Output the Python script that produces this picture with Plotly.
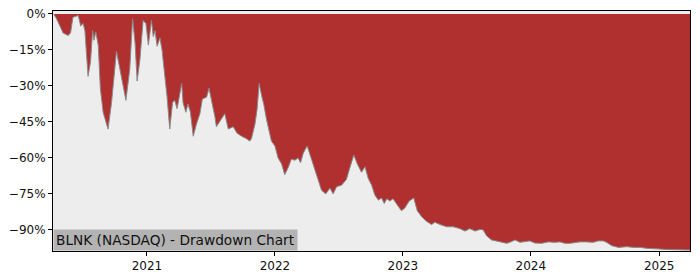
import plotly.graph_objects as go

dates = [
    "2020-04-10", "2020-04-18", "2020-05-07", "2020-05-21", "2020-05-28", "2020-06-04",
    "2020-06-19", "2020-06-26", "2020-07-03", "2020-07-08", "2020-07-17", "2020-07-24",
    "2020-07-30", "2020-08-03", "2020-08-08", "2020-08-15", "2020-08-21", "2020-08-29",
    "2020-09-12", "2020-09-22", "2020-10-06", "2020-10-16", "2020-10-25", "2020-11-02",
    "2020-11-13", "2020-11-21", "2020-11-28", "2020-12-04", "2020-12-12", "2020-12-21",
    "2020-12-29", "2021-01-05", "2021-01-14", "2021-01-19", "2021-01-24", "2021-01-30",
    "2021-02-07", "2021-02-13", "2021-02-21", "2021-02-27", "2021-03-07", "2021-03-15",
    "2021-03-21", "2021-03-28", "2021-04-10", "2021-04-14", "2021-04-22", "2021-04-28",
    "2021-05-05", "2021-05-13", "2021-05-22", "2021-06-01", "2021-06-08", "2021-06-20",
    "2021-06-27", "2021-07-04", "2021-07-14", "2021-07-18", "2021-08-02", "2021-08-11",
    "2021-08-21", "2021-09-04", "2021-09-15", "2021-09-28", "2021-10-12", "2021-10-21",
    "2021-10-26", "2021-11-05", "2021-11-11", "2021-11-17", "2021-11-24", "2021-11-30",
    "2021-12-08", "2021-12-16", "2021-12-22", "2022-01-01", "2022-01-10", "2022-01-20",
    "2022-01-29", "2022-02-08", "2022-02-17", "2022-02-27", "2022-03-08", "2022-03-15",
    "2022-03-23", "2022-04-03", "2022-04-11", "2022-04-25", "2022-05-04", "2022-05-14",
    "2022-05-26", "2022-06-07", "2022-06-16", "2022-06-26", "2022-07-10", "2022-07-24",
    "2022-08-03", "2022-08-14", "2022-08-24", "2022-09-05", "2022-09-15", "2022-09-24",
    "2022-10-04", "2022-10-13", "2022-10-23", "2022-11-01", "2022-11-09", "2022-11-16",
    "2022-11-25", "2022-12-04", "2022-12-16", "2022-12-28", "2023-01-06", "2023-01-19",
    "2023-02-01", "2023-02-11", "2023-02-23", "2023-03-09", "2023-03-24", "2023-04-02",
    "2023-04-17", "2023-05-06", "2023-05-25", "2023-06-13", "2023-06-27", "2023-07-11",
    "2023-07-26", "2023-08-09", "2023-08-18", "2023-08-28", "2023-09-11", "2023-09-25",
    "2023-10-10", "2023-10-24", "2023-11-02", "2023-11-17", "2023-12-01", "2023-12-15",
    "2023-12-29", "2024-01-13", "2024-02-01", "2024-02-20", "2024-03-10", "2024-03-24",
    "2024-04-07", "2024-04-22", "2024-05-11", "2024-05-20", "2024-06-08", "2024-06-27",
    "2024-07-11", "2024-07-26", "2024-08-04", "2024-08-19", "2024-09-07", "2024-10-01",
    "2024-10-20", "2024-11-08", "2024-11-27", "2024-12-16", "2025-01-04", "2025-01-23",
    "2025-02-11", "2025-03-02", "2025-03-26", "2025-03-30",
]

drawdown = [
    0, -2, -8, -9, -8, -1.4,
    -0.7, -5, -4, -7, -26, -20,
    -7, -11, -7.5, -13, -31, -41,
    -48, -37, -15.6, -23, -30, -36,
    -23, -2, -12, -28, -19, -2.8,
    -4, -13, -2.7, -9.5, -7, -13.5,
    -10, -15, -26, -34, -48, -37,
    -36, -39.5, -29, -37, -41, -37.5,
    -41, -51, -46, -41.6, -35.5, -34.7,
    -31, -35.5, -43, -47, -43.5, -41.6,
    -48, -47, -49.7, -51, -52, -53,
    -52, -46, -40, -29, -34, -37.5,
    -44, -49, -53, -55, -60, -62.5,
    -67, -64, -60.5, -61, -60, -62,
    -58, -55, -58.5, -65, -69, -73.5,
    -75, -72.6, -75, -72, -71.4, -69,
    -64, -58.8, -62.5, -66, -63.7, -68.5,
    -71.4, -75.5, -77.6, -76.7, -79, -77,
    -78, -77, -79.6, -82, -81, -78,
    -76.7, -82, -84.4, -86.4, -87.8, -86.8,
    -87.8, -88.7, -88.7, -89.5, -90.5, -89.5,
    -90.5, -89.8, -90, -92.5, -94.2, -94.6,
    -95, -95.6, -95.2, -94.2, -95.2, -95,
    -94.6, -95.5, -95.6, -95, -95.2, -95,
    -95.6, -95.6, -95, -95, -95, -95.2,
    -94.6, -94.6, -95.2, -96.6, -97.3, -97,
    -97.3, -97.3, -97.7, -98, -98, -98.2,
    -98.2, -98.4, -98.4, -98.4,
]

y_tick_vals = [0, -15, -30, -45, -60, -75, -90]
y_tick_text = ["0%", "\u221215%", "\u221230%", "\u221245%", "\u221260%", "\u221275%", "\u221290%"]
x_tick_vals = ["2021-01-01", "2022-01-01", "2023-01-01", "2024-01-01", "2025-01-01"]
x_tick_text = ["2021", "2022", "2023", "2024", "2025"]
title_text = "BLNK (NASDAQ) - Drawdown Chart"

FONT = "DejaVu Sans"

fig = go.Figure()
fig.add_trace(go.Scatter(
    x=dates, y=[0] * len(dates), mode="lines",
    line=dict(color="rgba(0,0,0,0)", width=0), hoverinfo="skip", showlegend=False,
))
fig.add_trace(go.Scatter(
    x=dates, y=drawdown, mode="lines", fill="tonexty",
    fillcolor="#b03030", line=dict(color="#8a8a8a", width=1),
    showlegend=False,
))

fig.add_annotation(
    text=title_text, xref="paper", yref="paper", x=0.0, y=0.0,
    xanchor="left", yanchor="bottom", showarrow=False,
    font=dict(family=FONT, size=13.7, color="#111111"),
    bgcolor="#b3b3b3", borderpad=2,
)

fig.update_layout(
    width=700, height=280,
    margin=dict(l=53, r=10, t=7, b=28),
    paper_bgcolor="white", plot_bgcolor="#ededed",
    font=dict(family=FONT, size=12, color="#111111"),
    showlegend=False,
)
fig.update_xaxes(
    type="date", range=["2020-04-08", "2025-03-30"],
    tickvals=x_tick_vals, ticktext=x_tick_text,
    ticks="outside", ticklen=4, tickcolor="black",
    showline=True, linecolor="black", linewidth=1, mirror=True,
    showgrid=False, zeroline=False,
)
fig.update_yaxes(
    range=[-98.8, 1.2],
    tickvals=y_tick_vals, ticktext=y_tick_text,
    ticks="outside", ticklen=4, tickcolor="black",
    showline=True, linecolor="black", linewidth=1, mirror=True,
    showgrid=False, zeroline=False,
)

fig.write_html("out.html")
